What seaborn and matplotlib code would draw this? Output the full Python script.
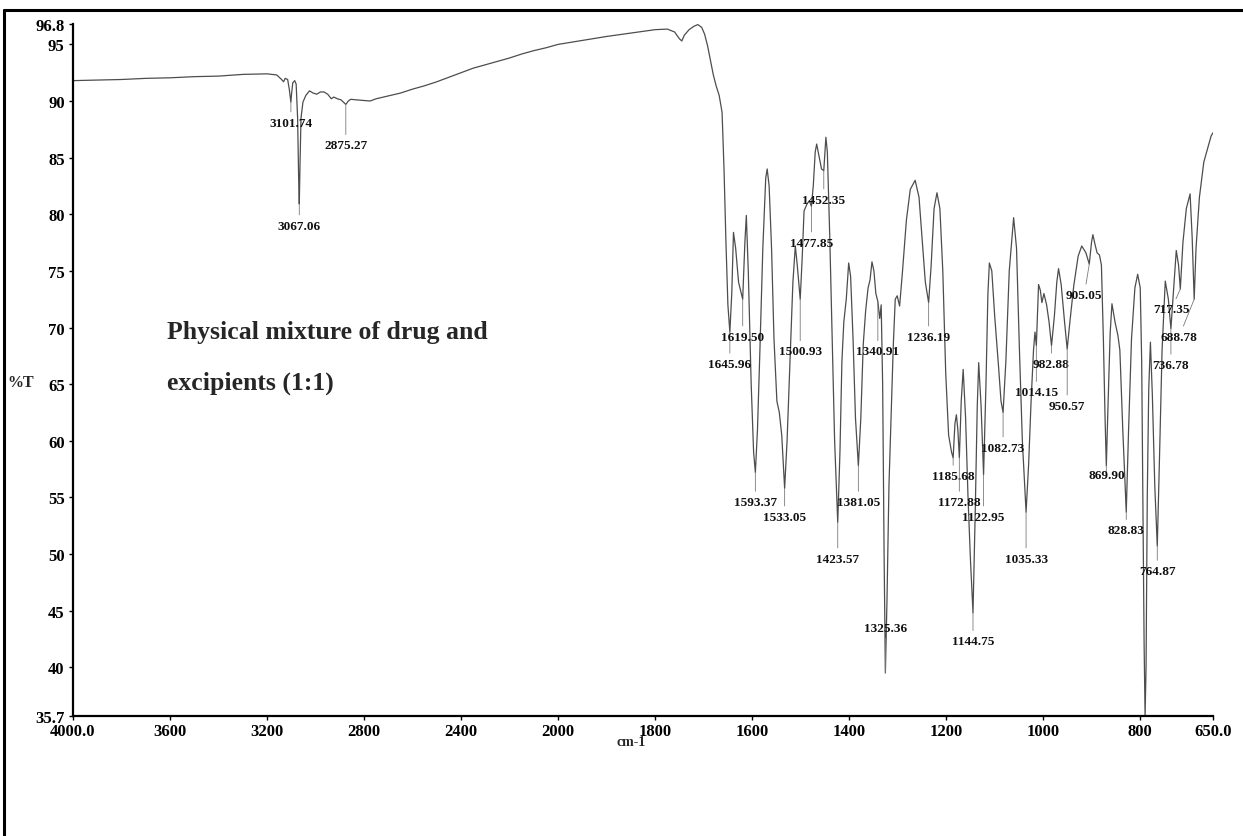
import numpy as np
import matplotlib
matplotlib.use("Agg")
import matplotlib.pyplot as plt
from matplotlib.lines import Line2D
import seaborn as sns

# ---- spectrum trace: wavenumber (cm-1) and transmittance (%T) ----
wavenumber = [
    4000, 3900, 3800, 3700, 3600, 3500, 3400, 3300, 3200, 3160, 3140, 3132, 3125, 3115,
    3108, 3103, 3101.74, 3099, 3094, 3086, 3080, 3074, 3070, 3067.06, 3064, 3060, 3052,
    3040, 3025, 3010, 2995, 2980, 2965, 2950, 2935, 2925, 2910, 2895, 2885, 2875.27, 2865,
    2855, 2830, 2800, 2775, 2750, 2700, 2650, 2600, 2550, 2500, 2450, 2400, 2350, 2300,
    2250, 2200, 2150, 2100, 2050, 2000, 1950, 1900, 1850, 1800, 1775, 1760, 1750, 1745,
    1740, 1730, 1720, 1712, 1704, 1698, 1692, 1686, 1680, 1674, 1668, 1662, 1658, 1654,
    1650, 1645.96, 1642, 1638.5, 1634, 1628, 1619.5, 1615, 1612, 1608, 1602, 1597, 1593.37,
    1589, 1584, 1578, 1572, 1569, 1565, 1560, 1555, 1549, 1544, 1539, 1533.05, 1528,
    1522, 1516, 1511, 1507, 1500.93, 1497, 1493, 1487, 1482, 1477.85, 1474, 1470, 1467,
    1463, 1457, 1452.35, 1448, 1445, 1440, 1435, 1430, 1423.57, 1419, 1415, 1411, 1406,
    1401, 1397, 1392, 1387, 1381.05, 1376, 1371, 1366, 1361, 1357, 1353, 1349, 1345,
    1340.91, 1337, 1334, 1331, 1328, 1325.36, 1322, 1318, 1313, 1309, 1305, 1301, 1296,
    1290, 1282, 1274, 1264, 1256, 1249, 1243, 1236.19, 1231, 1225, 1219, 1213, 1207,
    1201, 1195, 1189, 1185.68, 1182, 1179, 1176, 1172.88, 1169, 1165, 1160, 1155, 1150,
    1144.75, 1140, 1136, 1133, 1128, 1122.95, 1118, 1114, 1111, 1106, 1100, 1092, 1087,
    1082.73, 1077, 1070, 1061, 1055, 1049, 1043, 1035.33, 1030, 1025, 1020, 1017,
    1014.15, 1011.5, 1009.6, 1006, 1002.7, 998.5, 993, 988, 982.88, 977, 972, 968.4, 963,
    956, 950.57, 945, 937, 928, 920.6, 912, 905.05, 900.5, 897.6, 893, 889, 884, 880, 876,
    872.5, 869.9, 866.5, 862, 858.3, 852, 846, 842, 836, 828.83, 824, 818, 811, 805.3,
    800, 797, 794.5, 792, 790, 788, 785.5, 782.5, 779, 775, 770, 764.87, 760, 755, 748.4,
    742, 736.78, 731, 725.7, 721, 717.35, 712, 705, 697.2, 693, 688.78, 685, 678, 669,
    660, 654, 650,
]
transmittance = [
    91.8, 91.85, 91.9, 92.0, 92.05, 92.15, 92.2, 92.35, 92.4, 92.3, 91.9, 91.7, 92.0, 91.9,
    91.0, 90.1, 89.9, 90.6, 91.6, 91.8, 91.5, 88.5, 83.5, 80.9, 84.5, 88.5, 89.9,
    90.5, 90.9, 90.7, 90.6, 90.8, 90.8, 90.6, 90.2, 90.35, 90.2, 90.1, 89.9, 89.7, 90.0,
    90.15, 90.1, 90.05, 90.0, 90.2, 90.45, 90.7, 91.05, 91.35, 91.7, 92.1, 92.5, 92.9, 93.2,
    93.5, 93.8, 94.15, 94.45, 94.7, 95.0, 95.35, 95.7, 96.0, 96.3, 96.35, 96.1, 95.5, 95.3,
    95.8, 96.3, 96.6, 96.75, 96.5, 95.9, 94.9, 93.6, 92.3, 91.3, 90.5, 89.0, 84.0, 77.5,
    72.0, 69.6, 73.0, 78.4, 77.0, 74.0, 72.5, 77.5, 79.9, 75.0, 65.0, 59.0, 57.2,
    61.0, 68.0, 77.0, 83.2, 84.0, 82.5, 77.0, 69.0, 63.5, 62.5, 60.5, 55.8, 60.0,
    67.0, 74.0, 77.2, 75.5, 72.5, 76.0, 80.3, 80.9, 81.2, 80.7, 82.5, 85.5, 86.2,
    85.3, 84.0, 83.85, 86.8, 85.5, 78.0, 69.0, 60.0, 52.8, 59.0, 67.0, 70.5, 72.5,
    75.7, 74.5, 69.0, 62.0, 57.8, 62.0, 68.5, 71.5, 73.5, 74.2, 75.8, 75.0, 73.0,
    72.3, 70.8, 72.0, 65.0, 50.0, 39.5, 46.0, 56.0, 63.1, 68.5, 72.5, 72.8, 71.9,
    75.0, 79.5, 82.2, 83.0, 81.5, 77.5, 74.0, 72.2, 75.5, 80.5, 81.9, 80.5, 75.0,
    66.0, 60.5, 59.0, 58.5, 61.5, 62.3, 61.0, 58.5, 63.5, 66.3, 62.0, 55.0, 49.5,
    44.8, 54.0, 63.0, 66.9, 63.0, 57.0, 65.0, 73.0, 75.7, 75.0, 71.0, 66.5, 63.5,
    62.5, 67.0, 75.0, 79.7, 77.0, 68.0, 60.0, 53.7, 58.0, 63.5, 68.0, 69.6,
    68.4, 71.5, 73.8, 73.3, 72.2, 73.0, 72.0, 70.5, 68.4, 71.0, 74.0, 75.2, 73.8,
    70.5, 68.1, 70.5, 73.7, 76.3, 77.2, 76.6, 75.6, 77.5, 78.2, 77.3, 76.6, 76.4, 75.5, 69.0,
    62.0, 57.8, 63.0, 69.5, 72.1, 70.5, 69.3, 68.0, 61.0, 53.7, 61.0, 69.0, 73.5, 74.7,
    73.5, 67.0, 55.0, 42.0, 35.7, 40.0, 55.0, 64.5, 68.7, 64.0, 56.0, 50.7, 59.0, 68.0, 74.1,
    72.5, 69.9, 73.5, 76.8, 75.5, 73.4, 77.5, 80.5, 81.8, 78.0, 72.5, 77.0, 81.5, 84.6,
    86.0, 86.9, 87.2,
]

# ---- annotated band positions and the %T level where each label sits ----
peak_wn = [3101.74, 3067.06, 2875.27, 1645.96, 1619.50, 1593.37, 1533.05, 1500.93,
           1477.85, 1452.35, 1423.57, 1381.05, 1340.91, 1325.36, 1236.19, 1185.68,
           1172.88, 1144.75, 1122.95, 1082.73, 1035.33, 1014.15, 982.88, 950.57,
           905.05, 869.90, 828.83, 764.87, 736.78, 717.35, 688.78]
peak_label_T = [88.1, 79.0, 86.1, 66.8, 69.2, 54.6, 53.3, 67.9,
                77.5, 81.3, 49.6, 54.6, 67.9, 43.5, 69.2, 56.9,
                54.6, 42.3, 53.3, 59.4, 49.6, 64.3, 66.8, 63.1,
                72.9, 57.0, 52.1, 48.5, 66.7, 71.6, 69.2]

x_ticks = [4000, 3600, 3200, 2800, 2400, 2000, 1800, 1600, 1400, 1200, 1000, 800, 650]
x_tick_labels = ["4000.0", "3600", "3200", "2800", "2400", "2000", "1800", "1600",
                 "1400", "1200", "1000", "800", "650.0"]
y_ticks = [35.7, 40, 45, 50, 55, 60, 65, 70, 75, 80, 85, 90, 95, 96.8]
y_tick_labels = ["35.7", "40", "45", "50", "55", "60", "65", "70", "75", "80", "85",
                 "90", "95", "96.8"]

# ---- style ----
sns.set_theme(style="white")
plt.rcParams["font.family"] = ["Liberation Serif", "DejaVu Serif"]
plt.rcParams["font.weight"] = "bold"

W, H = 1243, 837
fig = plt.figure(figsize=(W / 100, H / 100), dpi=100)
ax = fig.add_axes([73 / W, 1 - 717 / H, 1140 / W, 692 / H])

sns.lineplot(x=wavenumber, y=transmittance, ax=ax, color="#4d4d4d",
             linewidth=0.9, sort=False, estimator=None)


# instrument-style abscissa: 400 cm-1 per division above 2000, 200 below
def fwd(w):
    w = np.asarray(w, dtype=float)
    return np.where(w <= 2000, (w - 650) / 200.0, 6.75 + (w - 2000) / 400.0)


def inv(u):
    u = np.asarray(u, dtype=float)
    return np.where(u <= 6.75, 650 + 200.0 * u, 2000 + 400.0 * (u - 6.75))


ax.set_xscale("function", functions=(fwd, inv))
ax.set_xlim(4000, 650)
ax.set_ylim(35.7, 96.8)

ax.set_xticks(x_ticks)
ax.set_xticklabels(x_tick_labels)
ax.set_yticks(y_ticks)
ax.set_yticklabels(y_tick_labels)
ax.minorticks_off()
ax.tick_params(axis="both", direction="out", length=3, width=1, colors="black",
               labelsize=12, left=True, bottom=True)
ax.tick_params(axis="x", pad=2)
ax.tick_params(axis="y", pad=3)
for lbl in ax.get_xticklabels() + ax.get_yticklabels():
    lbl.set_fontweight("bold")

for side in ("top", "right"):
    ax.spines[side].set_visible(False)
for side in ("left", "bottom"):
    ax.spines[side].set_color("black")
    ax.spines[side].set_linewidth(1.6)

ax.set_ylabel("%T", rotation=0, fontsize=11.5, fontweight="bold", ha="center", va="center")
ax.yaxis.set_label_coords(-0.0456, 0.483)
ax.set_xlabel("cm-1", fontsize=10, fontweight="bold", va="center")
ax.xaxis.set_label_coords(0.490, -0.0375)

ax.text(0.0825, 0.555, "Physical mixture of drug and", transform=ax.transAxes,
        fontsize=18.5, fontweight="bold", ha="left", va="center")
ax.text(0.0825, 0.4827, "excipients (1:1)", transform=ax.transAxes,
        fontsize=18.5, fontweight="bold", ha="left", va="center")

# band labels with leader lines down from each minimum
label_shift_px = {905.05: -5, 717.35: -9, 688.78: -15}
wn_sorted = np.array(wavenumber)[::-1]
t_sorted = np.array(transmittance)[::-1]
fig.canvas.draw()
for w, lt in zip(peak_wn, peak_label_T):
    trough = float(np.interp(w, wn_sorted, t_sorted))
    disp = ax.transData.transform((w, lt))
    disp[0] += label_shift_px.get(w, 0)
    lx = ax.transData.inverted().transform(disp)[0]
    ax.annotate(f"{w:.2f}", xy=(w, trough), xytext=(lx, lt), textcoords="data",
                fontsize=9.5, fontweight="bold", ha="center", va="center",
                color="#111111",
                arrowprops=dict(arrowstyle="-", color="#7a7a7a", lw=0.6,
                                shrinkA=1, shrinkB=0))

# frame lines along the top and left edges of the page
fig.add_artist(Line2D([4 / W, 1], [1 - 11 / H, 1 - 11 / H], color="black",
                      lw=2.2, transform=fig.transFigure))
fig.add_artist(Line2D([4 / W, 4 / W], [0, 1 - 11 / H], color="black",
                      lw=2.2, transform=fig.transFigure))

fig.savefig("out.png", dpi=100)
